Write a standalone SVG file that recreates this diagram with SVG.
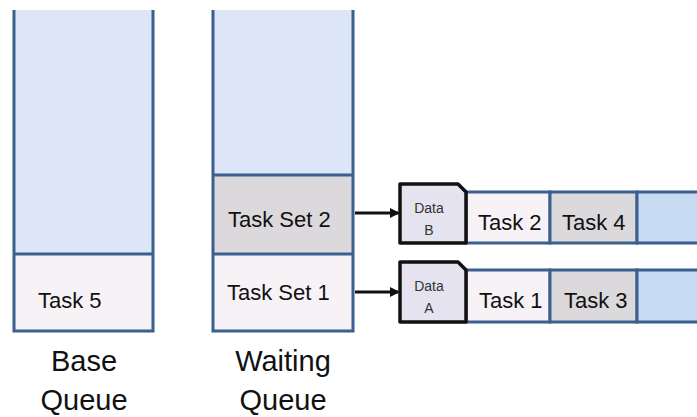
<svg xmlns="http://www.w3.org/2000/svg" width="697" height="417" viewBox="0 0 697 417">
  <style>
    .q { stroke: #3b5f8e; stroke-width: 3; }
    .blue { fill: #dce6f6; }
    .pale { fill: #f6f2f6; }
    .gray { fill: #dbd9dc; }
    .slot { fill: #c6daf2; }
    .t { font-family: "Liberation Sans", Arial, sans-serif; font-size: 22px; fill: #111; }
    .lbl { font-family: "Liberation Sans", Arial, sans-serif; font-size: 29px; fill: #111; text-anchor: middle; }
    .data { fill: #e5e3ef; stroke: #111; stroke-width: 3.5; stroke-linejoin: round; }
    .dt { font-family: "Liberation Sans", Arial, sans-serif; font-size: 14px; fill: #333; text-anchor: middle; }
    .conn { stroke: #111; stroke-width: 3; fill: none; }
  </style>
  <defs>
    <marker id="arrow" markerWidth="10" markerHeight="10" refX="8" refY="5" orient="auto" markerUnits="userSpaceOnUse">
      <path d="M0,0 L10,5 L0,10 z" fill="#111"/>
    </marker>
  </defs>

  <!-- Base queue -->
  <g id="base-queue">
    <rect x="14" y="10" width="139" height="243" class="blue"/>
    <rect x="14" y="253" width="139" height="78" class="pale"/>
    <path d="M14,10 V331 H153 V10 M14,254 H153" class="q" fill="none"/>
    <text x="38" y="308" class="t">Task 5</text>
    <text x="84" y="371" class="lbl">Base</text>
    <text x="84" y="410" class="lbl">Queue</text>
  </g>

  <!-- Waiting queue -->
  <g id="waiting-queue">
    <rect x="213" y="10" width="140" height="165" class="blue"/>
    <rect x="213" y="175" width="140" height="79" class="gray"/>
    <rect x="213" y="254" width="140" height="77" class="pale"/>
    <path d="M213,10 V331 H353 V10 M213,175 H353 M213,254 H353" class="q" fill="none"/>
    <text x="228" y="227" class="t">Task Set 2</text>
    <text x="227" y="300" class="t">Task Set 1</text>
    <text x="283" y="371" class="lbl">Waiting</text>
    <text x="283" y="410" class="lbl">Queue</text>
  </g>

  <!-- Task set 2 row -->
  <g id="row-b">
    <rect x="466" y="192" width="84" height="51" class="pale q"/>
    <rect x="550" y="192" width="87" height="51" class="gray q"/>
    <rect x="637" y="192" width="64" height="51" class="slot q"/>
    <text x="478" y="230" class="t">Task 2</text>
    <text x="562" y="230" class="t">Task 4</text>
  </g>
  <g id="data-b">
    <path d="M400,184 H458 L466,192 V243 H400 Z" class="data"/>
    <text x="429" y="213" class="dt">Data</text>
    <text x="429" y="235" class="dt">B</text>
  </g>

  <!-- Task set 1 row -->
  <g id="row-a">
    <rect x="466" y="270" width="84" height="52" class="pale q"/>
    <rect x="550" y="270" width="87" height="52" class="gray q"/>
    <rect x="637" y="270" width="64" height="52" class="slot q"/>
    <text x="479" y="308" class="t">Task 1</text>
    <text x="564" y="308" class="t">Task 3</text>
  </g>
  <g id="data-a">
    <path d="M400,262 H458 L466,270 V322 H400 Z" class="data"/>
    <text x="429" y="291" class="dt">Data</text>
    <text x="429" y="313" class="dt">A</text>
  </g>

  <!-- Connectors -->
  <g id="connectors">
    <line x1="355" y1="213" x2="398" y2="213" class="conn" marker-end="url(#arrow)"/>
    <line x1="355" y1="292" x2="398" y2="292" class="conn" marker-end="url(#arrow)"/>
  </g>
</svg>
